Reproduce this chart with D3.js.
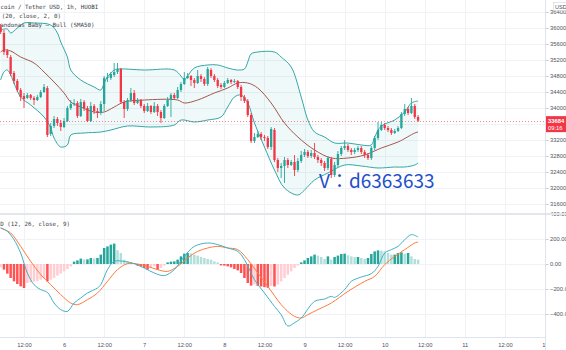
<!DOCTYPE html>
<html><head><meta charset="utf-8">
<script src="https://cdn.jsdelivr.net/npm/d3@7"></script>
<style>
html,body{margin:0;padding:0;background:#fff;}
svg{display:block;}
</style></head>
<body>
<svg id="c" width="566" height="350"></svg>
<script>
// ---------------- DATA ----------------
const startTime = Date.UTC(2021, 5, 5, 5); // first hourly candle
const open = [36025,35875,35425,35275,34875,34675,34450,34300,34250,34325,
34250,34200,34275,34400,34500,33350,33550,33725,33625,33525,
33675,34000,34100,34125,33800,34150,34000,33675,34050,33925,
33875,34100,34750,34750,34825,34900,34975,34150,33975,34200,
34375,34125,34200,34050,33925,34050,33900,34050,33900,33750,
34050,34200,34325,34250,34450,34600,34750,34800,34700,34625,
34800,34725,34600,34950,34800,34700,34575,34525,34625,34700,
34650,34675,34525,34275,34175,33825,33175,33275,33350,33275,
33250,33025,33450,32700,32500,32550,32700,32575,32650,32450,
32675,32825,32900,32800,32875,32775,32700,32625,32500,32725,
32325,32575,32850,33000,33050,32950,32900,32950,33000,32900,
32825,32750,33000,33250,33450,33575,33500,33450,33375,33425,
33500,33850,33975,33875,34050,33775];
const high = [36100,35950,35475,35325,34925,34725,34500,34375,34375,34350,
34300,34325,34450,34600,34550,33625,33800,33775,33700,33750,
34050,34200,34225,34175,34225,34200,34050,34150,34100,34000,
34175,34800,34875,34900,35125,35125,35000,34200,34250,34500,
34450,34250,34225,34100,34125,34075,34150,34100,33950,34100,
34275,34375,34375,34525,34650,34900,34875,34825,34750,34950,
34850,34775,35025,35000,34850,34750,34625,34675,34750,34725,
34725,34700,34575,34325,34225,33875,33375,33425,33400,33325,
33300,33525,33500,32750,32625,32775,32750,32700,32825,32750,
32925,32975,32950,32950,33125,32825,32750,32675,32800,32775,
32650,32925,33050,33200,33100,33000,33000,33050,33050,32950,
32875,33050,33300,33650,33650,33625,33550,33500,33475,33550,
33900,34100,34025,34250,34100,33825];
const low = [35850,35325,35250,34800,34600,34400,34175,34000,34225,34200,
34075,34175,34250,34375,33275,33300,33500,33550,33425,33500,
33650,33950,34050,33750,33775,33925,33650,33650,33850,33750,
33825,33925,34650,34700,34775,34850,34100,33750,33925,34150,
34075,34100,34000,33875,33900,33850,33875,33800,33625,33725,
34025,33775,34200,34225,34400,34575,34725,34550,34500,34600,
34650,34550,34550,34750,34650,34500,34475,34500,34600,34600,
34625,34475,34175,34125,33775,33125,33125,33250,33200,33175,
32975,32950,32650,32400,32250,32125,32500,32550,32300,32400,
32625,32775,32750,32750,32725,32625,32550,32425,32450,32250,
32275,32525,32800,32950,32900,32825,32850,32900,32850,32750,
32700,32700,32950,33200,33425,33450,33400,33325,33350,33400,
33475,33800,33825,33850,33725,33650];
const close = [35900,35400,35325,34850,34675,34450,34275,34225,34325,34250,
34200,34275,34400,34525,33325,33550,33725,33625,33525,33675,
34000,34100,34125,33800,34150,34000,33675,34050,33925,33875,
34100,34750,34775,34850,34900,34975,34150,33975,34200,34375,
34125,34200,34050,33925,34050,33900,34050,33900,33750,34050,
34200,34325,34250,34450,34600,34750,34800,34700,34625,34800,
34725,34600,34975,34800,34700,34550,34525,34625,34700,34650,
34675,34525,34275,34175,33825,33175,33275,33350,33275,33250,
33025,33475,32700,32500,32550,32700,32575,32650,32450,32675,
32825,32900,32800,32875,32775,32700,32625,32500,32750,32325,
32575,32850,33000,33050,32950,32900,32950,33000,32900,32825,
32750,33000,33250,33450,33575,33500,33450,33375,33425,33500,
33850,33975,33875,34050,33775,33684];

// Bands (candle index, price)
const upperIdx = [0,2,3,5,7,10,15,17,18,20,21,24,28,30,31,32,34,35,43,52,54,55,56,58,62,65,68,71,73,74,75,77,82,84,87,90,92,94,97,100,104,108,111,112,114,118,121,123,125];
const upperVal = [35950,35975,35875,36000,36125,36125,36075,35875,35650,35275,34950,34700,34525,34450,34625,34775,34950,34975,34950,34950,34800,34700,34800,35000,35075,35075,35000,34950,34975,35150,35350,35400,35400,35275,35025,34275,33700,33400,33275,33125,33125,33075,33075,33275,33550,33700,33900,34125,34175];
const lowerIdx = [0,1,2,6,9,13,15,16,18,20,21,25,30,33,38,45,52,54,58,62,66,68,70,72,74,76,79,82,85,89,91,94,98,103,108,113,118,121,124,125];
const lowerVal = [34700,34900,34950,34275,34075,33775,33500,33250,33025,33075,33325,33375,33400,33450,33550,33525,33575,33700,33650,33700,33775,34025,34275,34325,34125,33625,33025,32450,32000,31825,31950,32200,32375,32575,32550,32500,32525,32525,32575,32625];
const basisIdx = [0,1,3,6,10,13,16,19,21,24,28,31,34,37,43,53,55,59,64,68,71,74,77,81,85,89,94,99,104,109,114,119,124,125];
const basisVal = [35400,35450,35425,35275,35125,34900,34650,34375,34150,34025,33900,33900,34025,34150,34200,34200,34125,34200,34375,34500,34625,34625,34500,34125,33625,33275,32950,32750,32750,32825,33000,33150,33375,33400];

// MACD
const hist = [-27,-45,-77,-112,-139,-160,-179,-192,-152,-147,
-141,-136,-125,-115,-139,-125,-112,-93,-77,-59,
-40,-19,19,29,43,37,37,48,45,48,
75,128,141,155,163,110,88,35,21,16,
8,-13,-19,-32,-45,-32,-19,-45,-32,-13,
13,19,21,35,61,83,88,85,75,67,
56,48,40,35,21,13,-11,-13,-19,-27,
-40,-51,-72,-112,-152,-173,-165,-175,-180,-185,
-190,-175,-180,-165,-139,-112,-85,-59,-32,-13,
13,29,48,61,75,67,56,40,61,35,
56,67,80,83,69,61,56,56,48,40,
48,80,101,109,107,101,88,75,75,88,
93,83,88,61,40,35];
const macdIdx = [0,2,4,6,8,10,12,14,16,18,20,22,24,26,29,30,32,34,37,40,43,46,49,52,55,58,62,65,68,71,73,76,79,82,84,86,88,90,94,97,99,100,103,105,108,111,113,115,117,119,121,123,125];
const macdVal = [288,261,195,88,-72,-165,-205,-227,-312,-365,-379,-312,-272,-232,-192,-165,-45,21,21,3,-32,-72,-93,-45,61,141,168,155,128,101,35,-125,-232,-339,-405,-496,-470,-432,-299,-280,-259,-267,-205,-139,-104,-77,-19,88,115,141,195,235,216];
const sigIdx = [0,3,6,9,12,15,18,21,23,26,29,32,35,38,41,44,47,50,53,56,59,62,65,68,71,74,77,80,84,86,88,90,92,95,99,104,109,112,115,118,121,124,125];
const sigVal = [288,248,141,21,-85,-165,-245,-312,-325,-285,-232,-139,-45,3,0,-19,-45,-59,-19,48,101,128,141,128,115,35,-72,-179,-325,-379,-419,-432,-405,-365,-312,-219,-139,-99,-5,61,115,168,176];

const priceTicks = [31600,32000,32400,32800,33200,34000,34400,34800,35200,35600,36000,36400];
const macdTicks = [-400,-200,0,200,400];
const lastPrice = 33684;
const countdown = "09:16";
// legend lines as visible in the (left-cropped) screenshot
const legendLines = ["coin / Tether USD, 1h, HUOBI", "(20, close, 2, 0)", "andonas Baby – Bull (SMA50)"];
const macdLegend = "D (12, 26, close, 9)";
const watermark = "V：d6363633";

// ---------------- LAYOUT ----------------
const W = 566, H = 350, AX = 545;
const P_TOP = 0, P_BOT = 213, M_TOP = 215, M_BOT = 337;
const svg = d3.select("#c");

const x = d3.scaleUtc().domain([new Date(Date.UTC(2021,5,5,12)), new Date(Date.UTC(2021,5,12,0))]).range([24, AX]);
const X = i => x(new Date(startTime + i * 36e5));
const yP = d3.scaleLinear().domain([31600, 36400]).range([204, 12]);
const yM = d3.scaleLinear().domain([-400, 400]).range([314, 214]);

const UP = "#26a69a", DN = "#f23645";
const gridC = "#f0f2f5";
const fontAx = "'Liberation Sans', Arial, sans-serif";
const fontMono = "'DejaVu Sans Mono', monospace";

const defs = svg.append("defs");
defs.append("clipPath").attr("id","cp").append("rect").attr("x",0).attr("y",P_TOP).attr("width",AX).attr("height",P_BOT-P_TOP);
defs.append("clipPath").attr("id","cm").append("rect").attr("x",0).attr("y",M_TOP).attr("width",AX).attr("height",M_BOT-M_TOP);

// grid
const timeTicks = d3.utcHour.every(12).range(new Date(Date.UTC(2021,5,5,12)), new Date(Date.UTC(2021,5,12,1)));
const grid = svg.append("g");
timeTicks.forEach(t => {
  const xx = Math.round(x(t)) + 0.5;
  if (xx < AX) grid.append("line").attr("x1",xx).attr("x2",xx).attr("y1",0).attr("y2",M_BOT).attr("stroke",gridC);
});
priceTicks.concat([33600]).forEach(p => {
  const yy = Math.round(yP(p)) + 0.5;
  grid.append("line").attr("x1",0).attr("x2",AX).attr("y1",yy).attr("y2",yy).attr("stroke",gridC);
});
macdTicks.forEach(v => {
  const yy = Math.round(yM(v)) + 0.5;
  grid.append("line").attr("x1",0).attr("x2",AX).attr("y1",yy).attr("y2",yy).attr("stroke",gridC);
});

// ---------------- PRICE PANE ----------------
const pg = svg.append("g").attr("clip-path","url(#cp)");
const upPts = upperIdx.map((d,k)=>[X(d), yP(upperVal[k])]);
const loPts = lowerIdx.map((d,k)=>[X(d), yP(lowerVal[k])]);
const bsPts = basisIdx.map((d,k)=>[X(d), yP(basisVal[k])]);
const lineC = d3.line().curve(d3.curveCatmullRom.alpha(0.5));
const fillD = lineC(upPts) + "L" + lineC(loPts.slice().reverse()).slice(1) + "Z";
pg.append("path").attr("d", fillD).attr("fill","rgba(38,166,166,0.07)");
pg.append("path").attr("d", lineC(upPts)).attr("fill","none").attr("stroke","#33a7a8").attr("stroke-width",1);
pg.append("path").attr("d", lineC(loPts)).attr("fill","none").attr("stroke","#33a7a8").attr("stroke-width",1);
pg.append("path").attr("d", lineC(bsPts)).attr("fill","none").attr("stroke","#a3574e").attr("stroke-width",1);

const idx = d3.range(close.length);
pg.selectAll("line.wick").data(idx).join("line")
  .attr("x1", i=>X(i)).attr("x2", i=>X(i))
  .attr("y1", i=>yP(high[i])).attr("y2", i=>yP(low[i]))
  .attr("stroke", i=> close[i] >= open[i] ? UP : DN).attr("stroke-width",0.9);
pg.selectAll("rect.body").data(idx).join("rect")
  .attr("x", i=>X(i)-1.15).attr("width",2.3)
  .attr("y", i=>yP(Math.max(open[i],close[i])))
  .attr("height", i=>Math.max(1, Math.abs(yP(open[i])-yP(close[i]))))
  .attr("fill", i=> close[i] >= open[i] ? UP : DN);

// last price line
svg.append("line").attr("x1",0).attr("x2",AX).attr("y1",Math.round(yP(lastPrice))+0.5).attr("y2",Math.round(yP(lastPrice))+0.5)
  .attr("stroke","#f23645").attr("stroke-opacity",0.6).attr("stroke-dasharray","1,2");

// watermark
svg.append("text").attr("x",319).attr("y",188).text(watermark)
  .attr("font-family","'Noto Sans CJK TC', 'Noto Sans CJK JP', sans-serif").attr("font-size",19).attr("fill","#1f4fc8");

// legends
const leg = svg.append("g").attr("font-family",fontMono).attr("font-size",5.8).attr("fill","#3a3e48");
leg.append("text").attr("x",0.5).attr("y",9.3).text(legendLines[0]);
leg.append("text").attr("x",1.7).attr("y",18).text(legendLines[1]);
leg.append("text").attr("x",0.2).attr("y",26.5).text(legendLines[2]);
leg.append("text").attr("x",0.2).attr("y",225.5).text(macdLegend);

// ---------------- MACD PANE ----------------
const mg = svg.append("g").attr("clip-path","url(#cm)");
const histColor = (i) => {
  const v = hist[i], pv = i>0 ? hist[i-1] : v;
  if (v >= 0) return v >= pv ? "#26a69a" : "#b2dfdb";
  return v < pv ? "#ff5252" : "#ffcdd2";
};
mg.selectAll("rect.h").data(idx).join("rect")
  .attr("x", i=>X(i)-1.25).attr("width",2.5)
  .attr("y", i=>Math.min(yM(0), yM(hist[i])))
  .attr("height", i=>Math.abs(yM(hist[i]) - yM(0)))
  .attr("fill", histColor);
const mPts = macdIdx.map((d,k)=>[X(d), yM(macdVal[k])]);
const sPts = sigIdx.map((d,k)=>[X(d), yM(sigVal[k])]);
mg.append("path").attr("d", lineC(sPts)).attr("fill","none").attr("stroke","#ff7a3d").attr("stroke-width",1);
mg.append("path").attr("d", lineC(mPts)).attr("fill","none").attr("stroke","#42b0c4").attr("stroke-width",1);

// ---------------- AXES ----------------
const tAx = svg.append("g").attr("transform",`translate(0,${M_BOT})`)
  .call(d3.axisBottom(x).tickValues(timeTicks).tickSize(0).tickPadding(6)
    .tickFormat(d => d.getUTCHours()===0 ? String(d.getUTCDate()) : "12:00"));
tAx.select(".domain").remove();
tAx.selectAll("text").attr("font-family",fontAx).attr("font-size",5.8).attr("fill","#50535e");
svg.append("line").attr("x1",0).attr("x2",W).attr("y1",M_BOT+0.5).attr("y2",M_BOT+0.5).attr("stroke","#e0e3eb");

svg.append("rect").attr("x",AX+0.5).attr("y",0).attr("width",W-AX).attr("height",H).attr("fill","#fff");
const pAx = svg.append("g").attr("transform",`translate(${AX+0.5},0)`)
  .call(d3.axisRight(yP).tickValues(priceTicks).tickSize(3).tickPadding(1.5).tickFormat(d3.format("d")));
pAx.select(".domain").remove();
pAx.selectAll("line").attr("stroke","#c9ccd3");
pAx.selectAll("text").attr("font-family",fontAx).attr("font-size",5.8).attr("fill","#50535e");

const mAx = svg.append("g").attr("transform",`translate(${AX+0.5},0)`)
  .call(d3.axisRight(yM).tickValues(macdTicks).tickSize(3).tickPadding(1.5).tickFormat(d3.format(".2f")));
mAx.select(".domain").remove();
mAx.selectAll("line").attr("stroke","#c9ccd3");
mAx.selectAll("text").attr("font-family",fontAx).attr("font-size",5.8).attr("fill","#50535e");

svg.append("rect").attr("x",0).attr("y",P_BOT).attr("width",W).attr("height",M_TOP-P_BOT).attr("fill","#e4e6eb");
svg.append("line").attr("x1",AX+0.5).attr("x2",AX+0.5).attr("y1",0).attr("y2",H).attr("stroke","#e0e3eb");

const by = yP(lastPrice);
svg.append("rect").attr("x",AX+1).attr("y",by-4.5).attr("width",W-AX).attr("height",16).attr("fill","#f23645");
svg.append("text").attr("x",AX+3).attr("y",by+2).text(d3.format("d")(lastPrice))
  .attr("font-family",fontAx).attr("font-size",5.8).attr("font-weight","bold").attr("fill","#fff");
svg.append("text").attr("x",AX+3).attr("y",by+9).text(countdown)
  .attr("font-family",fontAx).attr("font-size",5.8).attr("fill","#fff");

svg.append("rect").attr("x",553.5).attr("y",2.5).attr("width",14).attr("height",8).attr("fill","#fff").attr("stroke","#d1d4dc").attr("stroke-width",0.6);
svg.append("text").attr("x",555).attr("y",8.6).text("USD").attr("font-family",fontAx).attr("font-size",5.6).attr("fill","#50535e");
</script>
</body></html>
